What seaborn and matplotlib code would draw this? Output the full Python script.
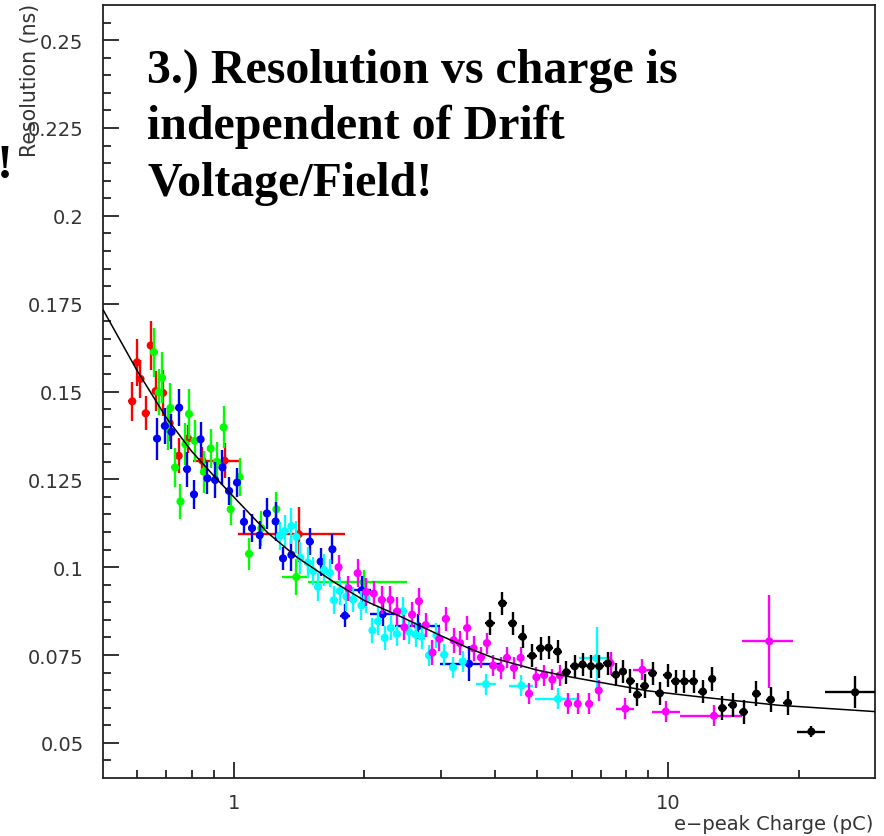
import numpy as np
import pandas as pd
import matplotlib
matplotlib.use("Agg")
import matplotlib.pyplot as plt
import seaborn as sns
from matplotlib.ticker import FixedLocator, FixedFormatter, NullFormatter

# ---------------- data ----------------
red_x = [0.584, 0.599, 0.610, 0.627, 0.644, 0.661, 0.687, 0.712, 0.747, 0.785, 0.847, 0.953, 1.412]
red_y = [0.1472, 0.1583, 0.1536, 0.1438, 0.1631, 0.1501, 0.1496, 0.1410, 0.1317, 0.1366, 0.1303, 0.1303, 0.1094]
red_yerr = [0.0055, 0.0067, 0.0055, 0.0048, 0.0069, 0.0057, 0.0065, 0.0050, 0.0050, 0.0040, 0.0040, 0.0050, 0.0078]
red_xlo = [0.012, 0.012, 0.012, 0.013, 0.013, 0.013, 0.014, 0.014, 0.015, 0.016, 0.017, 0.149, 0.39]
red_xhi = [0.012, 0.012, 0.012, 0.013, 0.013, 0.013, 0.014, 0.014, 0.015, 0.016, 0.017, 0.074, 0.39]

green_x = [0.655, 0.672, 0.684, 0.706, 0.715, 0.733, 0.754, 0.774, 0.789, 0.813, 0.854,
           0.885, 0.915, 0.948, 0.984, 1.032, 1.085, 1.158, 1.254, 1.394, 1.993]
green_y = [0.1612, 0.1498, 0.1539, 0.1393, 0.1453, 0.1284, 0.1187, 0.1350, 0.1436, 0.1360, 0.1272,
           0.1338, 0.1300, 0.1398, 0.1165, 0.1257, 0.1038, 0.1111, 0.1165, 0.0972, 0.0957]
green_yerr = [0.0070, 0.0065, 0.0073, 0.0060, 0.0070, 0.0055, 0.0050, 0.0060, 0.0070, 0.0060, 0.0060,
              0.0055, 0.0055, 0.0060, 0.0045, 0.0055, 0.0045, 0.0050, 0.0050, 0.0050, 0.0035]
green_xlo = [0.013, 0.013, 0.014, 0.014, 0.014, 0.015, 0.015, 0.015, 0.016, 0.016, 0.017,
             0.018, 0.018, 0.019, 0.020, 0.021, 0.022, 0.023, 0.025, 0.10, 0.51]
green_xhi = green_xlo

blue_x = [0.666, 0.694, 0.719, 0.749, 0.781, 0.810, 0.839, 0.870, 0.906, 0.942, 0.976, 1.018, 1.056, 1.102,
          1.148, 1.193, 1.249, 1.299, 1.358, 1.497, 1.586, 1.688, 1.804, 1.970, 2.203, 2.659, 3.485]
blue_y = [0.1366, 0.1402, 0.1385, 0.1454, 0.1279, 0.1207, 0.1364, 0.1253, 0.1248, 0.1284, 0.1217, 0.1241, 0.1129, 0.1111,
          0.1091, 0.1153, 0.1130, 0.1025, 0.1035, 0.1073, 0.1016, 0.1051, 0.0862, 0.0934, 0.0866, 0.0832, 0.0725]
blue_yerr = [0.0060, 0.0050, 0.0050, 0.0052, 0.0050, 0.0040, 0.0050, 0.0045, 0.0050, 0.0050, 0.0040, 0.0040, 0.0035, 0.0040,
             0.0040, 0.0045, 0.0055, 0.0033, 0.0045, 0.0038, 0.0040, 0.0043, 0.0033, 0.0040, 0.0033, 0.0035, 0.0050]
blue_xlo = [0.013, 0.014, 0.014, 0.015, 0.016, 0.016, 0.017, 0.017, 0.018, 0.019, 0.020, 0.020, 0.021, 0.022,
            0.023, 0.024, 0.025, 0.026, 0.027, 0.030, 0.032, 0.034, 0.05, 0.105, 0.14, 0.31, 0.50]
blue_xhi = [0.013, 0.014, 0.014, 0.015, 0.016, 0.016, 0.017, 0.017, 0.018, 0.019, 0.020, 0.020, 0.021, 0.022,
            0.023, 0.024, 0.025, 0.026, 0.027, 0.030, 0.032, 0.034, 0.05, 0.105, 0.20, 0.33, 0.62]

cyan_x = [1.276, 1.311, 1.358, 1.394, 1.424, 1.483, 1.523, 1.564, 1.616, 1.665, 1.701, 1.755, 1.818, 1.883,
          1.968, 2.021, 2.087, 2.150, 2.227, 2.300, 2.376, 2.455, 2.533, 2.625, 2.710, 2.818, 2.930, 3.055,
          3.200, 3.370, 3.810, 4.600, 5.580, 6.850]
cyan_y = [0.1089, 0.1103, 0.1117, 0.1086, 0.1027, 0.1013, 0.0989, 0.0944, 0.0992, 0.0984, 0.0906, 0.0932, 0.0916, 0.0908,
          0.0891, 0.0910, 0.0820, 0.0846, 0.0799, 0.0827, 0.0810, 0.0875, 0.0816, 0.0808, 0.0802, 0.0749, 0.0806, 0.0751,
          0.0715, 0.0732, 0.0667, 0.0663, 0.0625, 0.0741]
cyan_yerr = [0.0040, 0.0045, 0.0052, 0.0045, 0.0045, 0.0045, 0.0040, 0.0040, 0.0045, 0.0040, 0.0040, 0.0040, 0.0040, 0.0035,
             0.0040, 0.0040, 0.0035, 0.0040, 0.0035, 0.0035, 0.0035, 0.0040, 0.0035, 0.0035, 0.0035, 0.0030, 0.0035, 0.0030,
             0.0030, 0.0030, 0.0030, 0.0030, 0.0030, 0.0090]
cyan_xlo = [0.026, 0.026, 0.027, 0.028, 0.028, 0.030, 0.030, 0.031, 0.032, 0.033, 0.034, 0.035, 0.036, 0.038,
            0.039, 0.040, 0.042, 0.043, 0.045, 0.046, 0.048, 0.049, 0.051, 0.053, 0.054, 0.056, 0.059, 0.061,
            0.064, 0.067, 0.20, 0.29, 0.64, 0.60]
cyan_xhi = cyan_xlo

magenta_x = [1.744, 1.838, 1.930, 2.020, 2.102, 2.193, 2.297, 2.380, 2.473, 2.576, 2.670, 2.768, 2.870, 2.977,
             3.080, 3.210, 3.320, 3.450, 3.570, 3.710, 3.830, 3.960, 4.120, 4.260, 4.420, 4.580, 4.790, 4.980,
             5.190, 5.420, 5.640, 5.890, 6.200, 6.590, 6.930, 7.380, 7.980, 8.740, 9.890, 12.77, 17.13]
magenta_y = [0.1000, 0.0940, 0.0983, 0.0929, 0.0925, 0.0907, 0.0907, 0.0874, 0.0829, 0.0865, 0.0903, 0.0835, 0.0757, 0.0796,
             0.0853, 0.0792, 0.0784, 0.0827, 0.0769, 0.0743, 0.0784, 0.0720, 0.0713, 0.0742, 0.0713, 0.0742, 0.0640, 0.0687,
             0.0693, 0.0680, 0.0692, 0.0612, 0.0611, 0.0611, 0.0649, 0.0727, 0.0597, 0.0708, 0.0589, 0.0577, 0.0789]
magenta_yerr = [0.0036, 0.0035, 0.0040, 0.0040, 0.0035, 0.0040, 0.0040, 0.0040, 0.0035, 0.0035, 0.0038, 0.0035, 0.0035, 0.0035,
                0.0035, 0.0035, 0.0035, 0.0035, 0.0035, 0.0030, 0.0030, 0.0030, 0.0030, 0.0030, 0.0030, 0.0030, 0.0030, 0.0030,
                0.0030, 0.0030, 0.0030, 0.0030, 0.0030, 0.0030, 0.0030, 0.0033, 0.0030, 0.0030, 0.0030, 0.0030, 0.0133]
magenta_xlo = [0.035, 0.037, 0.039, 0.040, 0.042, 0.044, 0.046, 0.048, 0.049, 0.052, 0.053, 0.055, 0.057, 0.060,
               0.062, 0.064, 0.066, 0.069, 0.071, 0.074, 0.077, 0.079, 0.082, 0.085, 0.088, 0.092, 0.096, 0.100,
               0.104, 0.108, 0.113, 0.118, 0.124, 0.132, 0.139, 0.148, 0.38, 0.43, 0.72, 2.12, 2.28]
magenta_xhi = [0.035, 0.037, 0.039, 0.040, 0.042, 0.044, 0.046, 0.048, 0.049, 0.052, 0.053, 0.055, 0.057, 0.060,
               0.062, 0.064, 0.066, 0.069, 0.071, 0.074, 0.077, 0.079, 0.082, 0.085, 0.088, 0.092, 0.096, 0.100,
               0.104, 0.108, 0.113, 0.118, 0.124, 0.132, 0.139, 0.148, 0.38, 0.43, 0.76, 2.08, 2.33]

black_x = [3.89, 4.16, 4.39, 4.63, 4.87, 5.09, 5.31, 5.57, 5.84, 6.10, 6.36, 6.65, 6.95, 7.27, 7.59, 7.88, 8.19,
           8.50, 8.84, 9.22, 9.58, 10.00, 10.42, 10.92, 11.46, 12.04, 12.65, 13.35, 14.12, 14.94, 15.99, 17.26,
           18.90, 21.40, 27.00]
black_y = [0.0840, 0.0897, 0.0840, 0.0802, 0.0748, 0.0769, 0.0771, 0.0760, 0.0701, 0.0718, 0.0723, 0.0718, 0.0718,
           0.0726, 0.0694, 0.0703, 0.0676, 0.0637, 0.0662, 0.0698, 0.0641, 0.0692, 0.0675, 0.0675, 0.0675, 0.0646,
           0.0682, 0.0599, 0.0608, 0.0588, 0.0640, 0.0623, 0.0614, 0.0532, 0.0644]
black_yerr = [0.0033, 0.0033, 0.0033, 0.0033, 0.0033, 0.0033, 0.0033, 0.0033, 0.0033, 0.0033, 0.0033, 0.0033, 0.0033,
              0.0033, 0.0033, 0.0033, 0.0033, 0.0033, 0.0033, 0.0033, 0.0033, 0.0033, 0.0033, 0.0033, 0.0033, 0.0033,
              0.0033, 0.0033, 0.0033, 0.0033, 0.0035, 0.0035, 0.0035, 0.0015, 0.0045]
black_xlo = [0.10, 0.10, 0.11, 0.11, 0.12, 0.12, 0.13, 0.13, 0.14, 0.14, 0.15, 0.16, 0.16, 0.17, 0.18, 0.18, 0.19,
             0.20, 0.21, 0.21, 0.22, 0.23, 0.24, 0.25, 0.27, 0.28, 0.29, 0.31, 0.33, 0.35, 0.37, 0.40,
             0.44, 1.60, 4.00]
black_xhi = black_xlo

fit_x = [0.5, 0.6, 0.7, 0.8, 0.9, 1.0, 1.2, 1.4, 1.7, 2.0, 2.4, 3.0, 3.5, 4.0, 5.0, 6.0, 7.0, 9.0, 12.0, 18.0, 30.0]
fit_y = [0.1733, 0.1558, 0.1425, 0.1330, 0.1260, 0.1200, 0.1097, 0.1028, 0.0958, 0.0905, 0.0862, 0.0805,
         0.0768, 0.0740, 0.0707, 0.0687, 0.0672, 0.0648, 0.0630, 0.0607, 0.0589]

x_major = [1, 10]
x_major_labels = ["1", "10"]
x_minor = [0.6, 0.7, 0.8, 0.9, 2, 3, 4, 5, 6, 7, 8, 9, 20]
y_major = [0.05, 0.075, 0.1, 0.125, 0.15, 0.175, 0.2, 0.225, 0.25]
y_major_labels = ["0.05", "0.075", "0.1", "0.125", "0.15", "0.175", "0.2", "0.225", "0.25"]
y_minor = [round(0.045 + 0.005 * i, 3) for i in range(43)]

title_lines = ["3.) Resolution vs charge is", "independent of Drift", "Voltage/Field!"]

# ---------------- figure ----------------
sns.set_theme(style="white")
plt.rcParams["font.family"] = ["DejaVu Sans"]

W, H = 884, 837
fig = plt.figure(figsize=(W / 100, H / 100), dpi=100)
fig.patch.set_facecolor("white")
ax = fig.add_axes([103 / W, 1 - 779 / H, (875 - 103) / W, (779 - 6) / H])
ax.set_facecolor("white")
ax.set_xscale("log")
ax.set_xlim(0.5, 30)
ax.set_ylim(0.04, 0.26)

series = [
    (red_x, red_y, red_yerr, red_xlo, red_xhi, "#ff0000"),
    (green_x, green_y, green_yerr, green_xlo, green_xhi, "#00ff00"),
    (blue_x, blue_y, blue_yerr, blue_xlo, blue_xhi, "#0000ff"),
    (cyan_x, cyan_y, cyan_yerr, cyan_xlo, cyan_xhi, "#00ffff"),
    (magenta_x, magenta_y, magenta_yerr, magenta_xlo, magenta_xhi, "#ff00ff"),
    (black_x, black_y, black_yerr, black_xlo, black_xhi, "#000000"),
]
for i, (xs, ys, ye, xl, xh, col) in enumerate(series):
    z = 2 + i
    ax.errorbar(xs, ys, yerr=ye, xerr=[xl, xh], fmt="none", ecolor=col,
                elinewidth=1.7, capsize=0, zorder=z)
    sns.scatterplot(x=xs, y=ys, color=col, s=34, marker="o", edgecolor="none",
                    linewidth=0, ax=ax, zorder=z + 0.5, legend=False)

sns.lineplot(x=fit_x, y=fit_y, color="black", linewidth=1.1, estimator=None,
             sort=False, ax=ax, zorder=20)

ax.xaxis.set_major_locator(FixedLocator(x_major))
ax.xaxis.set_major_formatter(FixedFormatter(x_major_labels))
ax.xaxis.set_minor_locator(FixedLocator(x_minor))
ax.xaxis.set_minor_formatter(NullFormatter())
ax.yaxis.set_major_locator(FixedLocator(y_major))
ax.yaxis.set_major_formatter(FixedFormatter(y_major_labels))
ax.yaxis.set_minor_locator(FixedLocator(y_minor))
ax.yaxis.set_minor_formatter(NullFormatter())

ax.tick_params(which="both", direction="in", bottom=True, left=True, top=False, right=False,
               width=1.3, color="#222222", labelcolor="#333333", labelsize=14)
ax.tick_params(which="major", length=11.5)
ax.tick_params(which="minor", length=5.5)
ax.tick_params(axis="y", which="major", pad=14)
ax.tick_params(axis="x", which="major", pad=11)
for sp in ax.spines.values():
    sp.set_visible(True)
    sp.set_color("#222222")
    sp.set_linewidth(1.3)
ax.set_xlabel("")
ax.set_ylabel("")
ax.grid(False)

fig.text(873 / W, 1 - 825 / H, "e\u2212peak Charge (pC)", ha="right", va="center",
         fontsize=14, color="#333333")
fig.text(30 / W, 1 - 4 / H, "Resolution (ns)", rotation=90, ha="center", va="top",
         fontsize=14.8, color="#333333")

serif = ["Liberation Serif", "DejaVu Serif"]
for j, (line, base) in enumerate(zip(title_lines, [83, 139, 196])):
    fig.text(147 / W, 1 - base / H, line, ha="left", va="baseline", fontsize=34.5,
             fontweight="bold", family=serif, color="black")
fig.text(-3 / W, 1 - 178 / H, "!", ha="left", va="baseline", fontsize=34.5,
         fontweight="bold", family=serif, color="black")

fig.savefig("out.png", dpi=100)
